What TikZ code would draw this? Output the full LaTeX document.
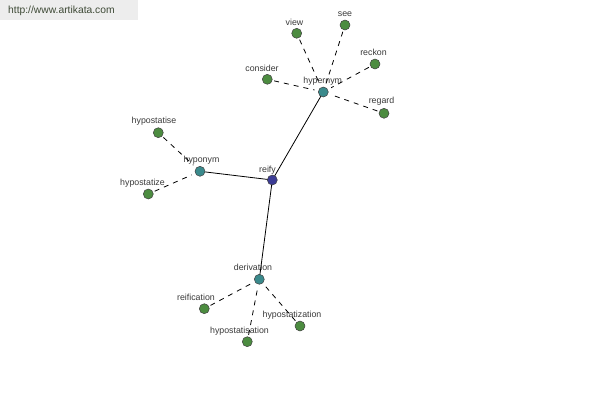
\documentclass[tikz,border=0pt]{standalone}
\usepackage{fontspec}
\setmainfont{Liberation Sans}
\definecolor{leafc}{HTML}{4C8C40}
\definecolor{hubc}{HTML}{3A8A8C}
\definecolor{rootc}{HTML}{3C3C96}
\definecolor{txtc}{HTML}{3A3A3A}
\definecolor{urlc}{HTML}{3E4A36}
\tikzset{
  dot/.style={circle,draw=black!75,line width=0.5pt,inner sep=0pt,minimum size=10pt},
  leaf/.style={dot,fill=leafc},
  hub/.style={dot,fill=hubc},
  root/.style={dot,fill=rootc},
  lbl/.style={inner sep=0pt,text=txtc,font=\fontsize{8.8}{10}\selectfont},
  solidlink/.style={draw=black,line width=0.8pt},
  dashlink/.style={draw=black,line width=0.8pt,dash pattern=on 5pt off 5pt,shorten <=7pt,shorten >=9pt},
}
\begin{document}
\begin{tikzpicture}[x=1pt,y=-1pt]
\useasboundingbox (0,0) rectangle (600,400);
\fill[white] (0,0) rectangle (600,400);
\fill[black!7] (0,0) rectangle (138,20);
\node[inner sep=0pt,anchor=west,text=urlc,font=\fontsize{10.3}{12}\selectfont] (url) at (8,11) {http://www.artikata.com};
% labels
\node[lbl] (lreify) at (267.5,170) {reify};
\node[lbl] (lhypernym) at (322.7,81) {hypernym};
\node[lbl] (lhyponym) at (201.5,160.5) {hyponym};
\node[lbl] (lderivation) at (253,267.5) {derivation};
\node[lbl] (lview) at (294.5,22.5) {view};
\node[lbl] (lsee) at (345,14) {see};
\node[lbl] (lreckon) at (373.5,52.5) {reckon};
\node[lbl] (lconsider) at (262,68) {consider};
\node[lbl] (lregard) at (381.5,101.5) {regard};
\node[lbl] (lhypostatise) at (154,121) {hypostatise};
\node[lbl] (lhypostatize) at (142.5,183) {hypostatize};
\node[lbl] (lreification) at (196,297) {reification};
\node[lbl] (lhypostatisation) at (239.5,331) {hypostatisation};
\node[lbl] (lhypostatization) at (292,315) {hypostatization};
% coordinates of nodes
\coordinate (creify) at (272.3,180);
\coordinate (chypernym) at (323.3,92);
\coordinate (chyponym) at (200,171.3);
\coordinate (cderivation) at (259.3,279.3);
\coordinate (cview) at (296.7,33.3);
\coordinate (csee) at (345,25);
\coordinate (creckon) at (375,64);
\coordinate (cconsider) at (267.3,79.3);
\coordinate (cregard) at (384,113.3);
\coordinate (chypostatise) at (158.3,132.7);
\coordinate (chypostatize) at (148.3,194);
\coordinate (creification) at (204.3,308.7);
\coordinate (chypostatisation) at (247.3,341.7);
\coordinate (chypostatization) at (300,326);
% links
\draw[solidlink] (creify) -- (chypernym);
\draw[solidlink] (creify) -- (chyponym);
\draw[solidlink] (creify) -- (cderivation);
\draw[dashlink] (cview) -- (chypernym);
\draw[dashlink] (csee) -- (chypernym);
\draw[dashlink] (creckon) -- (chypernym);
\draw[dashlink] (cconsider) -- (chypernym);
\draw[dashlink] (cregard) -- (chypernym);
\draw[dashlink] (chypostatise) -- (chyponym);
\draw[dashlink] (chypostatize) -- (chyponym);
\draw[dashlink] (creification) -- (cderivation);
\draw[dashlink] (chypostatisation) -- (cderivation);
\draw[dashlink] (chypostatization) -- (cderivation);
% dots
\node[root] (reify) at (creify) {};
\node[hub] (hypernym) at (chypernym) {};
\node[hub] (hyponym) at (chyponym) {};
\node[hub] (derivation) at (cderivation) {};
\node[leaf] (view) at (cview) {};
\node[leaf] (see) at (csee) {};
\node[leaf] (reckon) at (creckon) {};
\node[leaf] (consider) at (cconsider) {};
\node[leaf] (regard) at (cregard) {};
\node[leaf] (hypostatise) at (chypostatise) {};
\node[leaf] (hypostatize) at (chypostatize) {};
\node[leaf] (reification) at (creification) {};
\node[leaf] (hypostatisation) at (chypostatisation) {};
\node[leaf] (hypostatization) at (chypostatization) {};
\end{tikzpicture}
\end{document}
